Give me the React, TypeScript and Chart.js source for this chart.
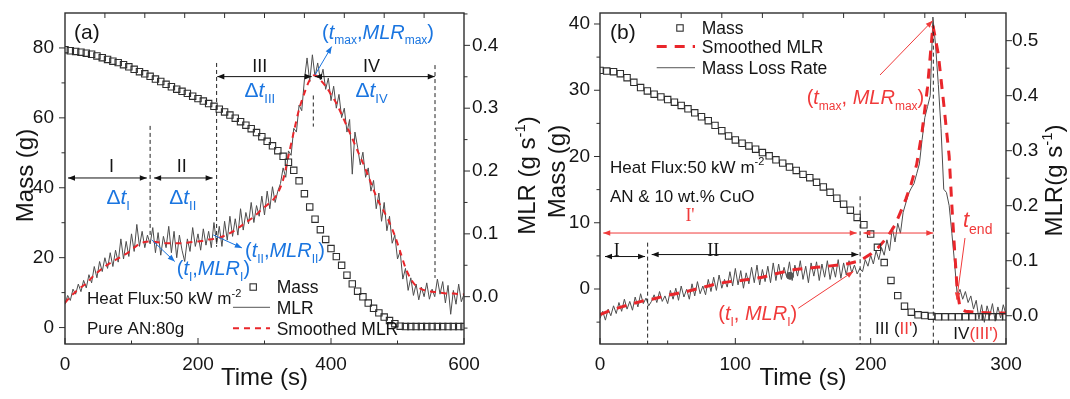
import React, { useEffect, useRef } from "react";
import { Chart, registerables } from "chart.js";
Chart.register(...registerables);

const SANS = '"Liberation Sans", Arial, sans-serif';
const SERIF = '"Liberation Serif", "Times New Roman", serif';
const BLUE = "#1a75e0";
const RED = "#f03a3a";
const SMOOTH_RED = "#e9262b";
const AXIS = "#2e2e2e";
const INK = "#151515";

// ---------------- Panel (a): pure AN, 80 g ----------------
const timeA8 = [0,8,16,24,32,40,48,56,64,72,80,88,96,104,112,120,128,136,144,152,160,168,176,184,192,200,208,216,224,232,240,248,256,264,272,280,288,296,304,312,320,328,336,344,352,360,368,376,384,392,400,408,416,424,432,440,448,456,464,472,480,488,496,504,512,520,528,536,544,552,560,568,576,584,592,600];
const massA = [79.5,79.2,79.0,78.8,78.5,78.2,77.7,77.2,76.7,76.2,75.8,75.2,74.6,73.9,73.2,72.6,71.9,71.1,70.4,69.6,68.9,68.2,67.6,67.0,66.2,65.5,64.8,64.1,63.3,62.5,61.7,60.8,59.9,58.9,57.9,56.9,55.8,54.6,53.3,52.0,50.6,49.0,47.3,45.0,42.0,38.3,34.5,31.0,28.0,25.2,22.6,20.3,17.8,15.0,12.5,10.4,8.8,7.0,5.5,4.2,3.0,2.0,1.1,0.4,0.3,0.3,0.3,0.3,0.3,0.3,0.3,0.3,0.3,0.3,0.3,0.3];
const smoothA = [-0.010,0.000,0.008,0.015,0.021,0.030,0.038,0.045,0.051,0.056,0.061,0.066,0.071,0.078,0.084,0.087,0.088,0.087,0.086,0.085,0.085,0.085,0.085,0.086,0.087,0.088,0.089,0.091,0.092,0.094,0.097,0.101,0.106,0.112,0.118,0.124,0.131,0.139,0.146,0.153,0.165,0.186,0.224,0.262,0.298,0.324,0.345,0.353,0.345,0.335,0.322,0.308,0.290,0.271,0.252,0.232,0.213,0.192,0.170,0.150,0.135,0.118,0.097,0.072,0.046,0.028,0.017,0.012,0.009,0.008,0.007,0.006,0.005,0.005,0.004,0.004];
const timeA4 = [0,4,8,12,16,20,24,28,32,36,40,44,48,52,56,60,64,68,72,76,80,84,88,92,96,100,104,108,112,116,120,124,128,132,136,140,144,148,152,156,160,164,168,172,176,180,184,188,192,196,200,204,208,212,216,220,224,228,232,236,240,244,248,252,256,260,264,268,272,276,280,284,288,292,296,300,304,308,312,316,320,324,328,332,336,340,344,348,352,356,360,364,368,372,376,380,384,388,392,396,400,404,408,412,416,420,424,428,432,436,440,444,448,452,456,460,464,468,472,476,480,484,488,492,496,500,504,508,512,516,520,524,528,532,536,540,544,548,552,556,560,564,568,572,576,580,584,588,592,596,600];
const mlrA = [-0.012,0.002,-0.006,0.012,0.004,0.020,0.008,0.026,0.014,0.035,0.022,0.048,0.030,0.056,0.040,0.062,0.045,0.070,0.048,0.074,0.055,0.092,0.060,0.088,0.064,0.100,0.072,0.115,0.080,0.104,0.078,0.098,0.084,0.110,0.070,0.102,0.066,0.096,0.078,0.112,0.070,0.104,0.062,0.098,0.074,0.056,0.092,0.072,0.110,0.080,0.100,0.074,0.108,0.082,0.104,0.078,0.118,0.084,0.112,0.080,0.120,0.090,0.128,0.096,0.124,0.098,0.140,0.106,0.134,0.116,0.150,0.118,0.145,0.128,0.160,0.130,0.168,0.140,0.175,0.150,0.168,0.180,0.205,0.190,0.232,0.225,0.268,0.262,0.305,0.296,0.345,0.380,0.342,0.385,0.350,0.372,0.345,0.362,0.330,0.348,0.312,0.335,0.300,0.322,0.285,0.300,0.262,0.282,0.195,0.262,0.238,0.210,0.230,0.190,0.205,0.168,0.185,0.140,0.165,0.120,0.150,0.105,0.128,0.085,0.098,0.060,0.072,0.028,0.045,0.010,0.030,0.002,0.020,-0.005,0.015,0.000,0.022,-0.004,0.012,0.000,0.028,0.004,0.024,-0.010,0.018,-0.028,0.010,-0.012,0.020,-0.008,0.004];
const xMajorA = [0,200,400,600];
const xMinorA = [100,300,500];
const xTopA = [60,120,180,240,300,360,420,480,540];
const massMajorA = [0,20,40,60,80];
const massMinorA = [10,30,50,70];
const mlrMajorA = [0,0.1,0.2,0.3,0.4];
const mlrMinorA = [-0.05,0.05,0.15,0.25,0.35,0.45];

// ---------------- Panel (b): AN & 10 wt.% CuO ----------------
const timeB5 = [0,5,10,15,20,25,30,35,40,45,50,55,60,65,70,75,80,85,90,95,100,105,110,115,120,125,130,135,140,145,150,155,160,165,170,175,180,185,190,195,200,205,210,215,220,225,230,235,240,245,250,255,260,265,270,275,280,285,290,295,300];
const massB = [33.0,32.9,32.8,32.5,31.9,31.2,30.4,29.9,29.4,29.0,28.6,28.2,27.7,27.2,26.6,26.0,25.4,24.7,23.9,23.1,22.5,22.0,21.6,21.1,20.6,20.1,19.5,19.0,18.4,17.9,17.3,16.8,16.1,15.4,14.6,13.7,12.8,11.9,10.8,9.7,8.3,6.3,4.0,1.3,-1.0,-2.6,-3.5,-3.9,-4.0,-4.1,-4.2,-4.2,-4.2,-4.2,-4.2,-4.2,-4.2,-4.2,-4.2,-4.2,-4.2];
const timeSmoothB = [0,8,16,24,32,40,48,56,64,72,80,88,96,104,112,120,128,136,144,152,160,168,176,184,192,200,206,212,218,222,226,230,234,238,242,246,250,254,258,260,262,264,266,270,280,290,300];
const smoothB = [0.002,0.010,0.016,0.022,0.027,0.031,0.036,0.040,0.044,0.049,0.054,0.059,0.062,0.064,0.067,0.070,0.075,0.080,0.084,0.086,0.088,0.090,0.092,0.095,0.100,0.112,0.125,0.142,0.165,0.188,0.212,0.240,0.275,0.335,0.415,0.528,0.475,0.385,0.290,0.200,0.120,0.045,0.015,0.008,0.006,0.005,0.005];
const timeB2 = [0,2,4,6,8,10,12,14,16,18,20,22,24,26,28,30,32,34,36,38,40,42,44,46,48,50,52,54,56,58,60,62,64,66,68,70,72,74,76,78,80,82,84,86,88,90,92,94,96,98,100,102,104,106,108,110,112,114,116,118,120,122,124,126,128,130,132,134,136,138,140,142,144,146,148,150,152,154,156,158,160,162,164,166,168,170,172,174,176,178,180,182,184,186,188,190,192,194,196,198,200,202,204,206,208,210,212,214,216,218,220,222,224,226,228,230,232,234,236,238,240,242,244,246,248,250,252,254,256,258,260,262,264,266,268,270,272,274,276,278,280,282,284,286,288,290,292,294,296,298,300];
const mlrB = [-0.005,0.008,-0.008,0.012,0.000,0.018,0.004,0.024,0.008,0.030,0.012,0.026,0.010,0.034,0.016,0.040,0.022,0.032,0.018,0.026,0.038,0.024,0.044,0.026,0.036,0.022,0.046,0.030,0.050,0.028,0.054,0.034,0.048,0.030,0.058,0.036,0.062,0.040,0.054,0.038,0.066,0.044,0.070,0.046,0.074,0.050,0.066,0.052,0.080,0.054,0.086,0.056,0.082,0.050,0.078,0.058,0.088,0.060,0.092,0.056,0.084,0.062,0.090,0.060,0.096,0.064,0.094,0.066,0.088,0.070,0.098,0.064,0.092,0.072,0.100,0.066,0.090,0.060,0.096,0.072,0.098,0.064,0.094,0.070,0.100,0.066,0.092,0.070,0.102,0.068,0.096,0.074,0.100,0.078,0.092,0.076,0.086,0.080,0.102,0.090,0.110,0.094,0.118,0.102,0.124,0.110,0.138,0.118,0.160,0.134,0.168,0.150,0.188,0.205,0.222,0.232,0.240,0.258,0.276,0.320,0.360,0.380,0.400,0.543,0.490,0.420,0.340,0.230,0.224,0.200,0.150,0.096,0.036,0.048,0.030,0.044,0.024,0.036,0.012,0.028,-0.006,0.020,-0.012,0.018,0.000,0.022,-0.010,0.016,-0.004,0.020,0.002];
const markTimeB = [140.4];
const markMlrB = [0.0726];
const xMajorB = [0,100,200,300];
const xMinorB = [50,150,250];
const xTopB = [30,60,90,120,150,180,210,240,270];
const massMajorB = [0,10,20,30,40];
const massMinorB = [-5,5,15,25,35];
const mlrMajorB = [0,0.1,0.2,0.3,0.4,0.5];
const mlrMinorB = [0.05,0.15,0.25,0.35,0.45];

// ---------------- drawing helpers ----------------
type Seg = { t: string; it?: boolean; sub?: boolean; sup?: boolean; c?: string; serif?: boolean };

function rich(ctx: CanvasRenderingContext2D, segs: Seg[], x: number, y: number, size: number, color: string, align: "left" | "center" | "right" = "left", fam = SANS) {
  const f = (s: Seg) => {
    const sz = s.sub || s.sup ? Math.round(size * 0.62) : size;
    return `${s.it ? "italic " : ""}${sz}px ${s.serif ? SERIF : fam}`;
  };
  let w = 0;
  const ws = segs.map((s) => { ctx.font = f(s); const m = ctx.measureText(s.t).width; w += m; return m; });
  let cx = align === "center" ? x - w / 2 : align === "right" ? x - w : x;
  const base = y + size * 0.36;
  ctx.textBaseline = "alphabetic";
  ctx.textAlign = "left";
  segs.forEach((s, i) => {
    ctx.font = f(s);
    ctx.fillStyle = s.c || color;
    const dy = s.sub ? size * 0.28 : s.sup ? -size * 0.42 : 0;
    ctx.fillText(s.t, cx, base + dy);
    cx += ws[i];
  });
}

function vtitle(ctx: CanvasRenderingContext2D, segs: Seg[], cx: number, cy: number, size: number) {
  ctx.save();
  ctx.translate(cx, cy);
  ctx.rotate(-Math.PI / 2);
  rich(ctx, segs, 0, 0, size, INK, "center");
  ctx.restore();
}

function arrow(ctx: CanvasRenderingContext2D, x1: number, y1: number, x2: number, y2: number, color: string, start = false, end = true, lw = 1, hl = 7, hw = 2.8) {
  ctx.save();
  ctx.strokeStyle = color; ctx.fillStyle = color; ctx.lineWidth = lw; ctx.setLineDash([]);
  ctx.beginPath(); ctx.moveTo(x1, y1); ctx.lineTo(x2, y2); ctx.stroke();
  const head = (xa: number, ya: number, xb: number, yb: number) => {
    const a = Math.atan2(yb - ya, xb - xa);
    ctx.beginPath();
    ctx.moveTo(xb, yb);
    ctx.lineTo(xb - hl * Math.cos(a) + hw * Math.sin(a), yb - hl * Math.sin(a) - hw * Math.cos(a));
    ctx.lineTo(xb - hl * Math.cos(a) - hw * Math.sin(a), yb - hl * Math.sin(a) + hw * Math.cos(a));
    ctx.closePath(); ctx.fill();
  };
  if (end) head(x1, y1, x2, y2);
  if (start) head(x2, y2, x1, y1);
  ctx.restore();
}

function line(ctx: CanvasRenderingContext2D, x1: number, y1: number, x2: number, y2: number, color: string, lw: number, dash: number[]) {
  ctx.save();
  ctx.strokeStyle = color; ctx.lineWidth = lw; ctx.setLineDash(dash);
  ctx.beginPath(); ctx.moveTo(x1, y1); ctx.lineTo(x2, y2); ctx.stroke();
  ctx.restore();
}

function square(ctx: CanvasRenderingContext2D, x: number, y: number) {
  ctx.save(); ctx.strokeStyle = AXIS; ctx.lineWidth = 1.1; ctx.setLineDash([]);
  ctx.strokeRect(x - 3.2, y - 3.2, 6.4, 6.4); ctx.restore();
}

type TickSpec = { xMajor: number[]; xMinor: number[]; top: number[]; mMajor: number[]; mMinor: number[]; rMajor: number[]; rMinor: number[] };

function frameAndTicks(chart: any, s: TickSpec) {
  const { ctx, chartArea: { left, right, top, bottom }, scales } = chart;
  ctx.save();
  ctx.strokeStyle = AXIS; ctx.lineWidth = 1; ctx.setLineDash([]);
  const seg = (x1: number, y1: number, x2: number, y2: number) => { ctx.beginPath(); ctx.moveTo(x1, y1); ctx.lineTo(x2, y2); ctx.stroke(); };
  s.xMajor.forEach((v) => { const p = scales.x.getPixelForValue(v); seg(p, bottom, p, bottom - 6); });
  s.xMinor.forEach((v) => { const p = scales.x.getPixelForValue(v); seg(p, bottom, p, bottom - 3.5); });
  s.top.forEach((v) => { const p = scales.x.getPixelForValue(v); seg(p, top, p, top + 5); });
  s.mMajor.forEach((v) => { const p = scales.yM.getPixelForValue(v); seg(left, p, left - 6, p); });
  s.mMinor.forEach((v) => { const p = scales.yM.getPixelForValue(v); seg(left, p, left - 3.5, p); });
  s.rMajor.forEach((v) => { const p = scales.yR.getPixelForValue(v); seg(right, p, right + 6, p); });
  s.rMinor.forEach((v) => { const p = scales.yR.getPixelForValue(v); seg(right, p, right + 3.5, p); });
  ctx.lineWidth = 1.4;
  ctx.strokeRect(left, top, right - left, bottom - top);
  ctx.restore();
}

const ts = (t: string, o: Partial<Seg> = {}): Seg => ({ t, ...o });

function decorateA(chart: any) {
  const { ctx, scales } = chart;
  const X = (t: number) => scales.x.getPixelForValue(t);
  const M = (m: number) => scales.yM.getPixelForValue(m);
  frameAndTicks(chart, { xMajor: xMajorA, xMinor: xMinorA, top: xTopA, mMajor: massMajorA, mMinor: massMinorA, rMajor: mlrMajorA, rMinor: mlrMinorA });

  rich(ctx, [ts("(a)")], X(13.5), M(84.7), 21, INK);

  // stage boundaries
  line(ctx, X(128), M(57.7), X(128), M(25.9), "#222", 1, [4, 3]);
  line(ctx, X(228), M(75.7), X(228), M(23.1), "#222", 1, [4, 3]);
  line(ctx, X(373.4), M(66.4), X(373.4), M(57.5), "#222", 1, [4, 3]);
  line(ctx, X(556.4), M(75.1), X(556.4), M(14.2), "#222", 1, [4, 3]);

  arrow(ctx, X(4.5), M(42.8), X(123), M(42.8), "#111", true, true);
  arrow(ctx, X(134), M(42.8), X(222), M(42.8), "#111", true, true);
  arrow(ctx, X(229), M(71.8), X(371), M(71.8), "#111", true, true);
  arrow(ctx, X(376), M(71.8), X(556), M(71.8), "#111", true, true);

  rich(ctx, [ts("I")], X(70), M(46.3), 18, INK, "center");
  rich(ctx, [ts("II")], X(175.5), M(46.3), 18, INK, "center");
  rich(ctx, [ts("III")], X(293), M(75.1), 18, INK, "center");
  rich(ctx, [ts("IV")], X(461), M(75.1), 18, INK, "center");

  rich(ctx, [ts("Δ"), ts("t", { it: true }), ts("I", { sub: true })], X(80), M(37.4), 21, BLUE, "center");
  rich(ctx, [ts("Δ"), ts("t", { it: true }), ts("II", { sub: true })], X(177), M(37.4), 21, BLUE, "center");
  rich(ctx, [ts("Δ"), ts("t", { it: true }), ts("III", { sub: true })], X(293), M(68.0), 21, BLUE, "center");
  rich(ctx, [ts("Δ"), ts("t", { it: true }), ts("IV", { sub: true })], X(461), M(68.0), 21, BLUE, "center");

  rich(ctx, [ts("("), ts("t", { it: true }), ts("max", { sub: true }), ts(","), ts("MLR", { it: true }), ts("max", { sub: true }), ts(")")], X(386.5), M(84.7), 20, BLUE);
  arrow(ctx, X(376), M(72.3), X(401), M(80.4), BLUE);
  rich(ctx, [ts("("), ts("t", { it: true }), ts("I", { sub: true }), ts(","), ts("MLR", { it: true }), ts("I", { sub: true }), ts(")")], X(168), M(17.0), 20, BLUE);
  arrow(ctx, X(130.4), M(25.1), X(165), M(18.9), BLUE);
  rich(ctx, [ts("("), ts("t", { it: true }), ts("II", { sub: true }), ts(","), ts("MLR", { it: true }), ts("II", { sub: true }), ts(")")], X(270.7), M(22.2), 20, BLUE);
  arrow(ctx, X(223), M(26.5), X(266), M(22.8), BLUE);

  rich(ctx, [ts("Heat Flux:50 kW m"), ts("-2", { sup: true })], X(33), M(8.4), 17, INK);
  rich(ctx, [ts("Pure AN:80g")], X(33), M(-0.2), 17, INK);

  // legend
  square(ctx, X(283), M(11.6));
  rich(ctx, [ts("Mass")], X(318.3), M(11.6), 17.5, INK);
  line(ctx, X(252.6), M(5.8), X(308.3), M(5.8), "#555", 1, []);
  rich(ctx, [ts("MLR")], X(318.3), M(5.8), 17.5, INK);
  line(ctx, X(252.6), M(-0.2), X(308.3), M(-0.2), SMOOTH_RED, 2, [6, 5]);
  rich(ctx, [ts("Smoothed MLR")], X(318.3), M(-0.2), 17.5, INK);

  const { chartArea } = chart;
  const midY = (chartArea.top + chartArea.bottom) / 2;
  rich(ctx, [ts("Time (s)")], (chartArea.left + chartArea.right) / 2, 376.7, 24, INK, "center");
  vtitle(ctx, [ts("Mass (g)")], 24, midY - 3, 24);
  vtitle(ctx, [ts("MLR (g s"), ts("-1", { sup: true }), ts(")")], 526, midY - 3, 24);
}

function decorateB(chart: any) {
  const { ctx, scales } = chart;
  const X = (t: number) => scales.x.getPixelForValue(t);
  const M = (m: number) => scales.yM.getPixelForValue(m);
  frameAndTicks(chart, { xMajor: xMajorB, xMinor: xMinorB, top: xTopB, mMajor: massMajorB, mMinor: massMinorB, rMajor: mlrMajorB, rMinor: mlrMinorB });
  const { chartArea } = chart;

  rich(ctx, [ts("(b)")], X(7.4), M(38.9), 21, INK);

  // legend
  square(ctx, X(59.1), M(39.4));
  rich(ctx, [ts("Mass")], X(75.2), M(39.4), 17.5, INK);
  line(ctx, X(41.9), M(36.6), X(70.2), M(36.6), SMOOTH_RED, 3, [10, 8]);
  rich(ctx, [ts("Smoothed MLR")], X(75.2), M(36.6), 17.5, INK);
  line(ctx, X(41.9), M(33.4), X(70.2), M(33.4), "#555", 1, []);
  rich(ctx, [ts("Mass Loss Rate")], X(75.2), M(33.4), 17.5, INK);

  rich(ctx, [ts("Heat Flux:50 kW m"), ts("-2", { sup: true })], X(7.4), M(18.5), 17, INK);
  rich(ctx, [ts("AN & 10 wt.% CuO")], X(7.4), M(14.0), 17, INK);

  // stage boundaries
  line(ctx, X(35.2), M(7.0), X(35.2), chartArea.bottom, "#222", 1, [4, 3]);
  line(ctx, X(192.2), M(14.0), X(192.2), chartArea.bottom, "#222", 1, [4, 3]);
  line(ctx, X(246.3), M(39.9), X(246.3), chartArea.bottom, "#222", 1, [4, 3]);

  arrow(ctx, X(2.4), M(8.45), X(189.7), M(8.45), RED, true, true);
  arrow(ctx, X(194.6), M(8.45), X(246.3), M(8.45), RED, true, true);
  rich(ctx, [ts("I'")], X(66.5), M(11.2), 18, RED, "center", SERIF);

  arrow(ctx, X(3.7), M(4.9), X(33.3), M(4.9), "#111", true, true);
  arrow(ctx, X(38.2), M(5.2), X(190.9), M(5.2), "#111", true, true);
  rich(ctx, [ts("I")], X(12.3), M(6.0), 18, INK, "center", SERIF);
  rich(ctx, [ts("II")], X(83.7), M(6.0), 18, INK, "center", SERIF);

  rich(ctx, [ts("("), ts("t", { it: true }), ts("max", { sub: true }), ts(", "), ts("MLR", { it: true }), ts("max", { sub: true }), ts(")")], X(152.7), M(29.0), 20, RED);
  arrow(ctx, X(206.9), M(32.3), X(245.8), M(40.5), RED);
  rich(ctx, [ts("("), ts("t", { it: true }), ts("I", { sub: true }), ts(", "), ts("MLR", { it: true }), ts("I", { sub: true }), ts(")")], X(87.4), M(-3.6), 20, RED);
  arrow(ctx, X(146.5), M(-2.9), X(187.2), M(2.65), RED);
  rich(ctx, [ts("t", { it: true }), ts("end", { sub: true })], X(268.2), M(10.5), 22, RED);
  arrow(ctx, X(269.7), M(7.7), X(263.6), M(-1.6), RED);

  rich(ctx, [ts("III ("), ts("II'", { c: RED }), ts(")")], X(203.2), M(-5.9), 17, INK);
  rich(ctx, [ts("IV"), ts("(III')", { c: RED })], X(261.1), M(-6.6), 17, INK);

  const midY = (chartArea.top + chartArea.bottom) / 2;
  rich(ctx, [ts("Time (s)")], (chartArea.left + chartArea.right) / 2, 376.7, 24, INK, "center");
  vtitle(ctx, [ts("Mass (g)")], 16, midY - 7, 24);
  vtitle(ctx, [ts("MLR(g s"), ts("-1", { sup: true }), ts(")")], 513, midY + 2, 24);
}

function xy(xs: number[], ys: number[]) {
  return ys.map((y, i) => ({ x: xs[i], y }));
}

function makeConfig(p: {
  xMax: number; mMin: number; mMax: number; rMin: number; rMax: number;
  leftW: number; rightW: number; leftPad: number; rightPad: number;
  xMajor: number[]; mMajor: number[]; rMajor: number[];
  datasets: any[]; decorate: (c: any) => void;
}) {
  const tickFont = { family: SANS, size: 19 };
  const zeroPad = (s: any) => { s.paddingTop = 0; s.paddingBottom = 0; s.paddingLeft = 0; s.paddingRight = 0; };
  return {
    type: "line" as const,
    data: { datasets: p.datasets },
    options: {
      animation: false as const,
      responsive: false,
      devicePixelRatio: 1,
      layout: { padding: { top: 13, left: 0, right: 0, bottom: 0 } },
      plugins: { legend: { display: false }, tooltip: { enabled: false } },
      scales: {
        x: {
          type: "linear" as const, min: 0, max: p.xMax,
          afterBuildTicks: (s: any) => { s.ticks = p.xMajor.map((v) => ({ value: v })); },
          afterFit: (s: any) => { s.height = 55; zeroPad(s); },
          grid: { display: false, drawTicks: false }, border: { display: false },
          ticks: { color: INK, font: tickFont, padding: 9, maxRotation: 0, autoSkip: false, callback: (v: any) => String(v) },
        },
        yM: {
          type: "linear" as const, position: "left" as const, min: p.mMin, max: p.mMax,
          afterBuildTicks: (s: any) => { s.ticks = p.mMajor.map((v) => ({ value: v })); },
          afterFit: (s: any) => { s.width = p.leftW; zeroPad(s); },
          grid: { display: false, drawTicks: false }, border: { display: false },
          ticks: { color: INK, font: tickFont, padding: p.leftPad, callback: (v: any) => String(Math.round(v)) },
        },
        yR: {
          type: "linear" as const, position: "right" as const, min: p.rMin, max: p.rMax,
          afterBuildTicks: (s: any) => { s.ticks = p.rMajor.map((v) => ({ value: v })); },
          afterFit: (s: any) => { s.width = p.rightW; zeroPad(s); },
          grid: { display: false, drawTicks: false }, border: { display: false },
          ticks: { color: INK, font: tickFont, padding: p.rightPad, callback: (v: any) => Number(v).toFixed(1) },
        },
      },
    },
    plugins: [{ id: "decorate", afterDraw: (c: any) => p.decorate(c) }],
  };
}

const massStyle = {
  showLine: false, pointStyle: "rect", pointRadius: 4.5, pointBorderWidth: 1.1,
  pointBorderColor: AXIS, pointBackgroundColor: "rgba(255,255,255,0)", borderColor: AXIS, yAxisID: "yM",
};

function configA() {
  return makeConfig({
    xMax: 600, mMin: -4.7, mMax: 90, rMin: -0.0753, rMax: 0.4515,
    leftW: 65, rightW: 76, leftPad: 11, rightPad: 8,
    xMajor: xMajorA, mMajor: massMajorA, rMajor: mlrMajorA,
    datasets: [
      { label: "Mass", data: xy(timeA8, massA), ...massStyle },
      { label: "Smoothed MLR", data: xy(timeA8, smoothA), yAxisID: "yR", borderColor: SMOOTH_RED, borderWidth: 2, borderDash: [6, 5], pointRadius: 0, tension: 0.3 },
      { label: "MLR", data: xy(timeA4, mlrA), yAxisID: "yR", borderColor: "#4d4d4d", borderWidth: 1, pointRadius: 0 },
    ],
    decorate: decorateA,
  });
}

function configB() {
  return makeConfig({
    xMax: 300, mMin: -8.3, mMax: 41.66, rMin: -0.0514, rMax: 0.5503,
    leftW: 60, rightW: 64, leftPad: 10, rightPad: 6,
    xMajor: xMajorB, mMajor: massMajorB, rMajor: mlrMajorB,
    datasets: [
      { label: "Mass", data: xy(timeB5, massB), ...massStyle },
      { label: "Point", data: xy(markTimeB, markMlrB), yAxisID: "yR", showLine: false, pointRadius: 3.5, pointBackgroundColor: "#555", pointBorderColor: "#555" },
      { label: "Smoothed MLR", data: xy(timeSmoothB, smoothB), yAxisID: "yR", borderColor: SMOOTH_RED, borderWidth: 3, borderDash: [10, 8], pointRadius: 0 },
      { label: "Mass Loss Rate", data: xy(timeB2, mlrB), yAxisID: "yR", borderColor: "#4d4d4d", borderWidth: 1, pointRadius: 0 },
    ],
    decorate: decorateB,
  });
}

function Panel({ make, left, width }: { make: () => any; left: number; width: number }) {
  const ref = useRef<HTMLCanvasElement>(null);
  useEffect(() => {
    const chart = new Chart(ref.current as HTMLCanvasElement, make());
    return () => chart.destroy();
  }, []);
  return (
    <canvas ref={ref} width={width} height={399}
      style={{ position: "absolute", left, top: 0, width, height: 399 }} />
  );
}

export default function App() {
  return (
    <div style={{ position: "absolute", left: 0, top: 0, width: 1070, height: 399, background: "#fff", overflow: "hidden" }}>
      <Panel make={configA} left={0} width={540} />
      <Panel make={configB} left={540} width={530} />
    </div>
  );
}
